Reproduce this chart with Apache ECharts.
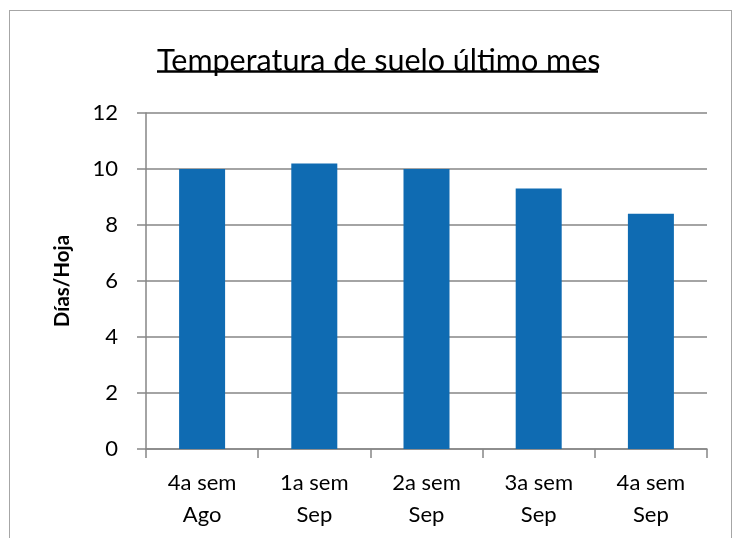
<!DOCTYPE html>
<html>
<head>
<meta charset="utf-8">
<script src="https://cdn.jsdelivr.net/npm/echarts@6/dist/echarts.min.js"></script>
<style>
  html, body { margin: 0; padding: 0; background: #fff; }
  #frame {
    position: absolute; left: 9px; top: 10px; width: 723px; height: 560px;
    border: 1px solid #a6a6a6; box-sizing: border-box;
  }
  #chart { position: absolute; left: 0; top: 0; width: 743px; height: 538px; }
</style>
</head>
<body>
<div id="frame"></div>
<div id="chart"></div>
<script>
const font = 'Lato, "Open Sans", sans-serif'
const titleText = 'Temperatura de suelo último mes'
const yName = 'Días/Hoja'
const categories = ['4a sem\nAgo', '1a sem\nSep', '2a sem\nSep', '3a sem\nSep', '4a sem\nSep']
const values = [10.0, 10.2, 10.0, 9.3, 8.4]

const chart = echarts.init(document.getElementById('chart'))
chart.setOption({
  animation: false,
  title: {
    text: titleText,
    left: 152,
    top: 41,
    textStyle: { fontFamily: font, fontSize: 30.5, fontWeight: 'normal', color: '#000' }
  },
  // underline for the title
  graphic: [{
    type: 'line',
    shape: { x1: 157, y1: 71.5, x2: 598, y2: 71.5 },
    style: { stroke: '#000', lineWidth: 2.5 }
  }],
  grid: { left: 146, right: 36, top: 113, bottom: 89 },
  xAxis: {
    type: 'category',
    data: categories,
    axisLine: { lineStyle: { color: '#868686', width: 1.5 } },
    axisTick: { show: true, length: 9, lineStyle: { color: '#868686', width: 1.5 } },
    axisLabel: { fontFamily: font, fontSize: 22, color: '#000', margin: 18, lineHeight: 32 }
  },
  yAxis: {
    type: 'value',
    min: 0,
    max: 12,
    interval: 2,
    name: yName,
    nameLocation: 'middle',
    nameGap: 73,
    nameTextStyle: { fontFamily: font, fontSize: 20.5, fontWeight: 'bold', color: '#000' },
    axisLine: { show: true, lineStyle: { color: '#868686', width: 1.5 } },
    axisTick: { show: true, length: 9, lineStyle: { color: '#868686', width: 1.5 } },
    axisLabel: { fontFamily: font, fontSize: 22, color: '#000', margin: 28 },
    splitLine: { lineStyle: { color: '#868686', width: 1.5 } }
  },
  series: [{
    type: 'bar',
    data: values,
    barWidth: '41%',
    itemStyle: { color: '#0f6bb2' }
  }]
})
</script>
</body>
</html>
